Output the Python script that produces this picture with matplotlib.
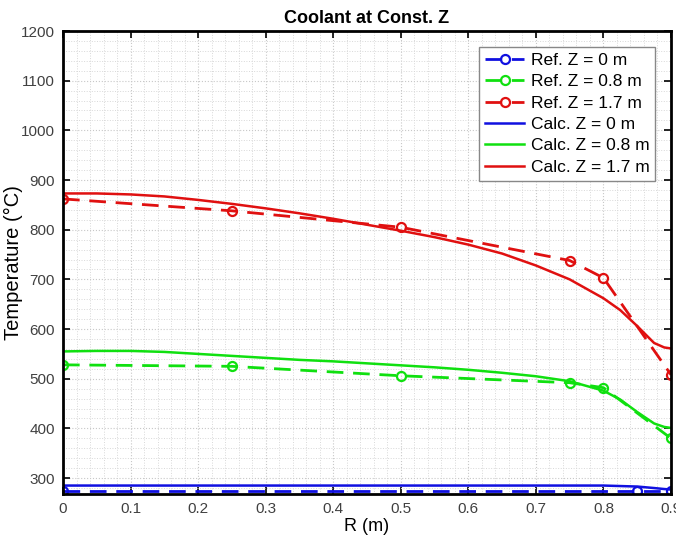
import matplotlib
matplotlib.use("Agg")
import matplotlib.pyplot as plt
from matplotlib.ticker import MultipleLocator

plt.rcParams['font.family'] = ['Liberation Sans', 'DejaVu Sans']

# Reference data (markers)
ref_r_z0 = [0.0, 0.85, 0.9]
ref_t_z0 = [275, 275, 275]
ref_r = [0.0, 0.25, 0.5, 0.75, 0.8, 0.9]
ref_t_z08 = [528, 525, 506, 492, 482, 380]
ref_t_z17 = [862, 838, 805, 738, 703, 508]

# Calculated data
calc_r = [0.0, 0.05, 0.1, 0.15, 0.2, 0.25, 0.3, 0.35, 0.4, 0.45, 0.5, 0.55,
          0.6, 0.65, 0.7, 0.75, 0.8, 0.825, 0.85, 0.875, 0.89, 0.9]
calc_t_z0 = [285, 285, 285, 285, 285, 285, 285, 285, 285, 285, 285, 285,
             285, 285, 285, 285, 285, 284, 283, 280, 278, 277]
calc_t_z08 = [555, 556, 556, 554, 550, 546, 542, 538, 535, 531, 527, 523,
              518, 512, 505, 495, 476, 458, 433, 410, 403, 401]
calc_t_z17 = [873, 873, 871, 867, 860, 852, 843, 833, 822, 810, 798, 785,
              770, 752, 728, 700, 662, 638, 606, 572, 563, 561]

x_ticks = [0, 0.1, 0.2, 0.3, 0.4, 0.5, 0.6, 0.7, 0.8, 0.9]
x_labels = ["0", "0.1", "0.2", "0.3", "0.4", "0.5", "0.6", "0.7", "0.8", "0.9"]
y_ticks = [300, 400, 500, 600, 700, 800, 900, 1000, 1100, 1200]

BLUE = "#1010e0"
GREEN = "#10e010"
RED = "#e01010"

fig = plt.figure(figsize=(6.76, 5.40), dpi=100)
ax = fig.add_axes([63/676, 1 - 494/540, (671-63)/676, (494-31)/540])

mk = dict(marker='o', markersize=6.5, markerfacecolor='none', markeredgewidth=1.6)
dash = (6, 3.5)
ax.plot(ref_r_z0, ref_t_z0, '--', color=BLUE, lw=2, label='Ref. Z = 0 m', dashes=dash, **mk)
ax.plot(ref_r, ref_t_z08, '--', color=GREEN, lw=2, label='Ref. Z = 0.8 m', dashes=dash, **mk)
ax.plot(ref_r, ref_t_z17, '--', color=RED, lw=2, label='Ref. Z = 1.7 m', dashes=dash, **mk)
ax.plot(calc_r, calc_t_z0, '-', color=BLUE, lw=1.8, label='Calc. Z = 0 m')
ax.plot(calc_r, calc_t_z08, '-', color=GREEN, lw=1.8, label='Calc. Z = 0.8 m')
ax.plot(calc_r, calc_t_z17, '-', color=RED, lw=1.8, label='Calc. Z = 1.7 m')

ax.set_xlim(0, 0.9)
ax.set_ylim(268, 1200)
ax.set_xticks(x_ticks)
ax.set_xticklabels(x_labels)
ax.set_yticks(y_ticks)
ax.xaxis.set_minor_locator(MultipleLocator(0.02))
ax.yaxis.set_minor_locator(MultipleLocator(20))
ax.grid(True, which='major', linestyle=':', color='#c8c8c8', lw=0.8)
ax.grid(True, which='minor', linestyle=':', color='#d8d8d8', lw=0.7)
ax.set_axisbelow(True)
ax.tick_params(which='major', direction='in', length=5, width=1.2, top=True, right=True,
               labelsize=11, labelcolor='#404040', pad=6)
ax.tick_params(which='minor', length=0)
for s in ax.spines.values():
    s.set_linewidth(2)
    s.set_color('black')

ax.set_xlabel('R (m)', fontsize=13, labelpad=1)
ax.set_ylabel('Temperature (\u00b0C)', fontsize=14.5, va='center')
ax.yaxis.set_label_coords(-0.082, 0.5)
ax.set_title('Coolant at Const. Z', fontsize=13, fontweight='bold', pad=6)

leg = ax.legend(loc='upper right', fontsize=12.5, fancybox=False, framealpha=1,
                edgecolor='#888888', borderpad=0.35, labelspacing=0.36, handlelength=2.2,
                handletextpad=0.4, borderaxespad=0.9)
leg.get_frame().set_linewidth(1.0)

fig.savefig('out.png', dpi=100)
